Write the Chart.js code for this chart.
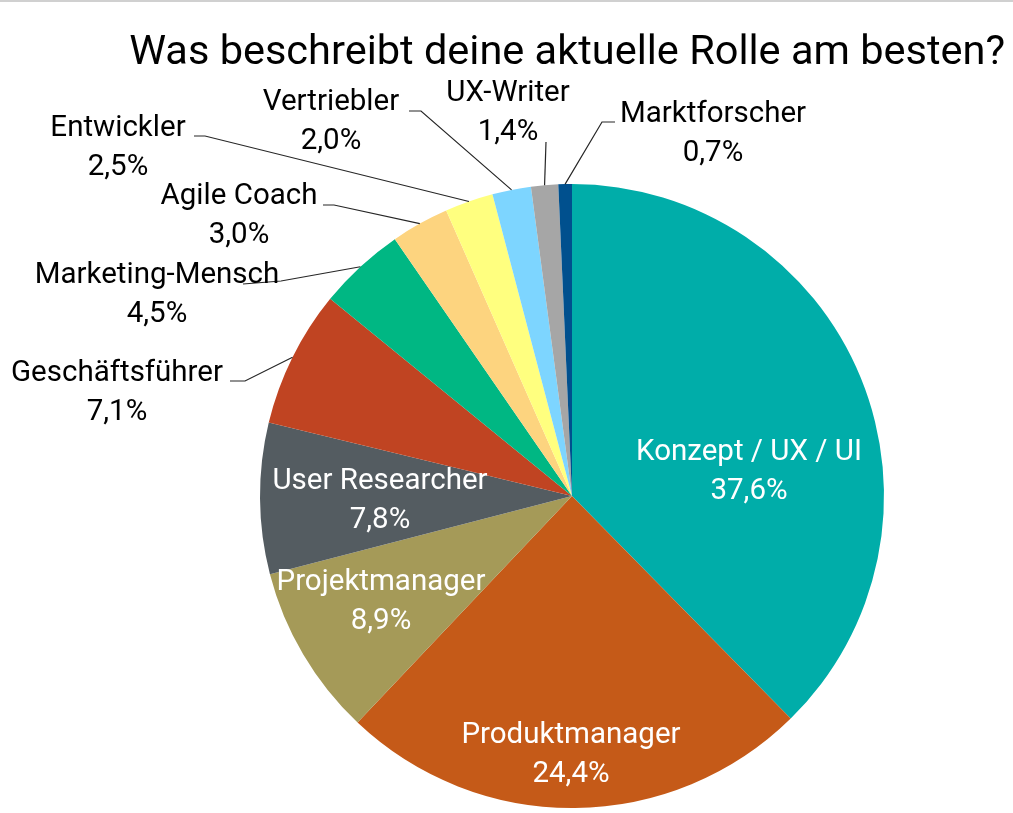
<!DOCTYPE html>
<html>
<head>
<meta charset="utf-8">
<script src="https://cdn.jsdelivr.net/npm/chart.js@4.4.1/dist/chart.umd.min.js"></script>
<style>
  html, body { margin: 0; padding: 0; background: #fff; }
  #wrap { width: 1013px; height: 813px; position: relative; }
</style>
</head>
<body>
<div id="wrap"><canvas id="chart" width="1013" height="813"></canvas></div>
<script>
// ── Daten ──
const titleText = 'Was beschreibt deine aktuelle Rolle am besten?';
const roles = ['Konzept / UX / UI', 'Produktmanager', 'Projektmanager', 'User Researcher', 'Geschäftsführer',
  'Marketing-Mensch', 'Agile Coach', 'Entwickler', 'Vertriebler', 'UX-Writer', 'Marktforscher'];
const shares = [37.6, 24.4, 8.9, 7.8, 7.1, 4.5, 3.0, 2.5, 2.0, 1.4, 0.7];
const sliceColors = ['#00ADA9', '#C55A18', '#A59A58', '#545C61', '#C04422', '#00B783',
  '#FDD47F', '#FFFF7F', '#7DD5FF', '#A6A6A6', '#00508E'];

// ── Beschriftung: Position (Mitte x, Grundlinie y), Farbe, Führungslinie ──
const labelLayout = [
  { x: 749, y: 460, color: '#fff' },
  { x: 571, y: 743, color: '#fff' },
  { x: 381, y: 590, color: '#fff' },
  { x: 380, y: 489, color: '#fff' },
  { x: 117, y: 381, color: '#000', leader: [[230, 381], [245, 381]] },
  { x: 157, y: 283, color: '#000', leader: [[243, 284], [281, 281]] },
  { x: 239, y: 204, color: '#000', leader: [[323, 205], [334, 205]] },
  { x: 118, y: 136, color: '#000', leader: [[194, 136], [205, 136]] },
  { x: 331, y: 110, color: '#000', leader: [[409, 111], [421, 111]] },
  { x: 508, y: 101, color: '#000', leader: [[546, 142]] },
  { x: 713, y: 122, color: '#000', leader: [[615, 122], [602, 122]] },
];

const FONT = 'Roboto, "Liberation Sans", sans-serif';
const pct = v => v.toFixed(1).replace('.', ',') + '%';

const labelPlugin = {
  id: 'pieLabels',
  afterDatasetsDraw(chart) {
    const ctx = chart.ctx;
    const meta = chart.getDatasetMeta(0);
    ctx.save();
    // feine graue Linie oben
    ctx.fillStyle = '#D0D0D0';
    ctx.fillRect(0, 0, chart.width, 2);

    // Titel
    ctx.fillStyle = '#000';
    ctx.font = '41.5px ' + FONT;
    ctx.textAlign = 'right';
    ctx.textBaseline = 'alphabetic';
    ctx.fillText(titleText, 1005, 64);

    ctx.font = '29.5px ' + FONT;
    ctx.textAlign = 'center';
    meta.data.forEach((arc, i) => {
      const L = labelLayout[i];
      if (L.leader) {
        const mid = (arc.startAngle + arc.endAngle) / 2;
        const ex = arc.x + Math.cos(mid) * arc.outerRadius;
        const ey = arc.y + Math.sin(mid) * arc.outerRadius;
        ctx.strokeStyle = '#262626';
        ctx.lineWidth = 1.2;
        ctx.beginPath();
        ctx.moveTo(L.leader[0][0], L.leader[0][1]);
        L.leader.slice(1).forEach(p => ctx.lineTo(p[0], p[1]));
        ctx.lineTo(ex, ey);
        ctx.stroke();
      }
      ctx.fillStyle = L.color;
      ctx.fillText(roles[i], L.x, L.y);
      ctx.fillText(pct(shares[i]), L.x, L.y + 39);
    });
    ctx.restore();
  }
};

new Chart(document.getElementById('chart'), {
  type: 'pie',
  data: {
    labels: roles,
    datasets: [{ data: shares, backgroundColor: sliceColors, borderWidth: 0, hoverOffset: 0 }]
  },
  options: {
    responsive: false,
    animation: false,
    layout: { padding: { top: 184, bottom: 5, left: 260, right: 129 } },
    plugins: {
      legend: { display: false },
      title: { display: false },
      tooltip: { enabled: false }
    }
  },
  plugins: [labelPlugin]
});
</script>
</body>
</html>
